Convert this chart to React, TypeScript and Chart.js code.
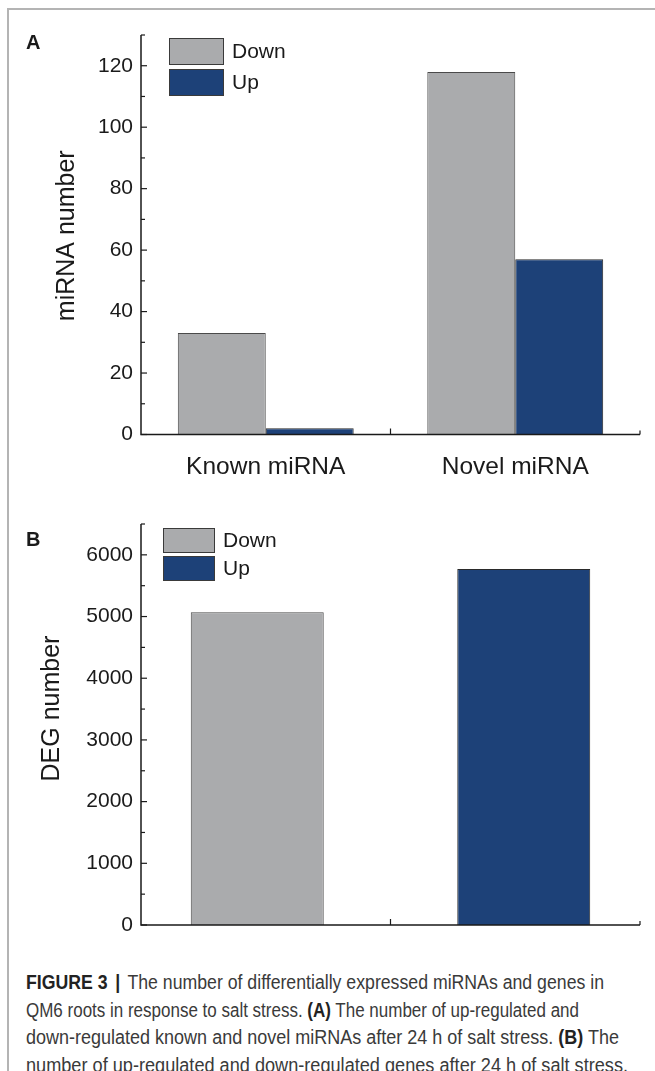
import React, { useEffect, useLayoutEffect, useRef } from "react";
import { Chart, registerables } from "chart.js";

Chart.register(...registerables);

// ---------- data ----------
const seriesLabels = ["Down", "Up"];
const seriesColors = ["#aaabad", "#1d4178"];
const miRnaCategories = ["Known miRNA", "Novel miRNA"];
const miRnaDown = [33, 118];
const miRnaUp = [2, 57];
const miRnaMajorTicks = [0, 20, 40, 60, 80, 100, 120];
const miRnaMinorTicks = [10, 30, 50, 70, 90, 110, 130];
const miRnaRange = [0, 130];
const degCategories = ["Down", "Up"];
const degDown: (number | null)[] = [5070, null];
const degUp: (number | null)[] = [null, 5770];
const degMajorTicks = [0, 1000, 2000, 3000, 4000, 5000, 6000];
const degMinorTicks = [500, 1500, 2500, 3500, 4500, 5500, 6500];
const degRange = [0, 6500];

const FONT = "'Liberation Sans', Arial, Helvetica, sans-serif";
const INK = "#1a1a1a";

const axesPlugin = {
  id: "customAxes",
  afterDatasetsDraw(chart: any, _args: any, opts: any) {
    const { ctx, chartArea } = chart;
    const { left, right, top, bottom } = chartArea;
    const x = chart.scales.x;
    const y = chart.scales.y;
    ctx.save();
    ctx.strokeStyle = INK;
    ctx.lineWidth = 1.5;
    ctx.beginPath();
    ctx.moveTo(left, top);
    ctx.lineTo(left, bottom);
    ctx.lineTo(right, bottom);
    ctx.stroke();
    ctx.lineWidth = 1.2;
    y.ticks.forEach((t: any) => {
      const py = y.getPixelForValue(t.value);
      ctx.beginPath();
      ctx.moveTo(left, py);
      ctx.lineTo(left + 6, py);
      ctx.stroke();
    });
    (opts.minor as number[]).forEach((v) => {
      const py = y.getPixelForValue(v);
      ctx.beginPath();
      ctx.moveTo(left, py);
      ctx.lineTo(left + 4, py);
      ctx.stroke();
    });
    const n = chart.data.labels.length;
    for (let i = 1; i <= n; i++) {
      const px = x.getPixelForValue(i - 0.5);
      ctx.beginPath();
      ctx.moveTo(px, bottom);
      ctx.lineTo(px, bottom - (i === n ? 4 : 6));
      ctx.stroke();
    }
    ctx.restore();
  },
};

const legendPlugin = {
  id: "customLegend",
  afterDraw(chart: any, _args: any, opts: any) {
    const { ctx, chartArea } = chart;
    const bx = chartArea.left + opts.dx;
    let by = chartArea.top + opts.dy;
    ctx.save();
    chart.data.datasets.forEach((ds: any) => {
      ctx.fillStyle = ds.backgroundColor;
      ctx.fillRect(bx, by, opts.w, opts.h);
      ctx.strokeStyle = "#3a3a3a";
      ctx.lineWidth = 1;
      ctx.strokeRect(bx + 0.5, by + 0.5, opts.w - 1, opts.h - 1);
      ctx.fillStyle = INK;
      ctx.font = `${opts.size}px ${FONT}`;
      ctx.textBaseline = "middle";
      ctx.textAlign = "left";
      ctx.fillText(ds.label, bx + opts.w + 8, by + opts.h / 2 + 1);
      by += opts.h + opts.gap;
    });
    ctx.restore();
  },
};

const yTitlePlugin = {
  id: "yTitle",
  afterDraw(chart: any, _args: any, opts: any) {
    const { ctx, chartArea } = chart;
    ctx.save();
    ctx.translate(opts.x, (chartArea.top + chartArea.bottom) / 2 + opts.dy);
    ctx.rotate(-Math.PI / 2);
    ctx.font = `${opts.size}px ${FONT}`;
    ctx.fillStyle = INK;
    ctx.textAlign = "center";
    ctx.textBaseline = "alphabetic";
    ctx.fillText(opts.text, 0, 0);
    ctx.restore();
  },
};

function makeScales(range: number[], major: number[], showX: boolean, xHeight: number) {
  return {
    x: {
      type: "category",
      offset: true,
      grid: { display: false, drawTicks: false },
      border: { display: false },
      ticks: {
        display: showX,
        color: INK,
        padding: 18,
        font: { family: FONT, size: 24.5 },
        maxRotation: 0,
        autoSkip: false,
      },
      afterFit: (s: any) => {
        s.height = xHeight;
      },
    },
    y: {
      min: range[0],
      max: range[1],
      grid: { display: false, drawTicks: false },
      border: { display: false },
      afterBuildTicks: (s: any) => {
        s.ticks = major.map((v) => ({ value: v }));
      },
      ticks: {
        padding: 8,
        color: INK,
        autoSkip: false,
        font: { family: FONT, size: 21 },
        callback: (v: any) => String(v),
      },
      afterFit: (s: any) => {
        s.width = 141;
      },
    },
  };
}

function PanelA() {
  const ref = useRef<HTMLCanvasElement>(null);
  useEffect(() => {
    const chart = new Chart(ref.current as HTMLCanvasElement, {
      type: "bar",
      data: {
        labels: miRnaCategories,
        datasets: [
          { label: seriesLabels[0], data: miRnaDown, backgroundColor: seriesColors[0], borderColor: "#4a4a4a", borderWidth: 1 },
          { label: seriesLabels[1], data: miRnaUp, backgroundColor: seriesColors[1], borderColor: "#2a2a2a", borderWidth: 1 },
        ],
      },
      options: {
        animation: false,
        responsive: false,
        maintainAspectRatio: false,
        datasets: { bar: { categoryPercentage: 0.705, barPercentage: 1 } },
        layout: { padding: { top: 35, right: 15, left: 0, bottom: 0 } },
        plugins: {
          legend: { display: false },
          tooltip: { enabled: false },
          customAxes: { minor: miRnaMinorTicks },
          customLegend: { dx: 28, dy: 3, w: 55, h: 27, gap: 4, size: 21 },
          yTitle: { text: "miRNA number", x: 74, dy: 1, size: 25 },
        } as any,
        scales: makeScales(miRnaRange, miRnaMajorTicks, true, 65.5) as any,
      },
      plugins: [axesPlugin, legendPlugin, yTitlePlugin],
    });
    return () => chart.destroy();
  }, []);
  return (
    <canvas ref={ref} width={655} height={500} style={{ position: "absolute", left: 0, top: 0, width: 655, height: 500 }} />
  );
}

function PanelB() {
  const ref = useRef<HTMLCanvasElement>(null);
  useEffect(() => {
    const chart = new Chart(ref.current as HTMLCanvasElement, {
      type: "bar",
      data: {
        labels: degCategories,
        datasets: [
          { label: seriesLabels[0], data: degDown, backgroundColor: seriesColors[0], borderColor: "#4a4a4a", borderWidth: 1 },
          { label: seriesLabels[1], data: degUp, backgroundColor: seriesColors[1], borderColor: "#2a2a2a", borderWidth: 1 },
        ],
      },
      options: {
        animation: false,
        responsive: false,
        maintainAspectRatio: false,
        datasets: { bar: { categoryPercentage: 0.1363, barPercentage: 7.82 } },
        layout: { padding: { top: 24, right: 15, left: 0, bottom: 0 } },
        plugins: {
          legend: { display: false },
          tooltip: { enabled: false },
          customAxes: { minor: degMinorTicks },
          customLegend: { dx: 22, dy: 4, w: 52, h: 25, gap: 3, size: 21 },
          yTitle: { text: "DEG number", x: 59, dy: -16, size: 25 },
        } as any,
        scales: makeScales(degRange, degMajorTicks, false, 35) as any,
      },
      plugins: [axesPlugin, legendPlugin, yTitlePlugin],
    });
    return () => chart.destroy();
  }, []);
  return (
    <canvas ref={ref} width={655} height={460} style={{ position: "absolute", left: 0, top: 500, width: 655, height: 460 }} />
  );
}

const captionLines: React.ReactNode[] = [
  <>
    <b style={{ color: "#222" }}>FIGURE 3</b> <b style={{ margin: "0 3px", color: "#222" }}>|</b> The number of differentially expressed miRNAs and genes in
  </>,
  <>
    QM6 roots in response to salt stress. <b style={{ color: "#222" }}>(A)</b> The number of up-regulated and
  </>,
  <>
    down-regulated known and novel miRNAs after 24 h of salt stress. <b style={{ color: "#222" }}>(B)</b> The
  </>,
  <>number of up-regulated and down-regulated genes after 24 h of salt stress.</>,
];
const captionLineWidths = [578, 553, 593, 602];

function Caption() {
  const spans = useRef<(HTMLSpanElement | null)[]>([]);
  useLayoutEffect(() => {
    spans.current.forEach((el, i) => {
      if (!el) return;
      const w = el.getBoundingClientRect().width;
      if (w > 0) el.style.transform = `scaleX(${captionLineWidths[i] / w})`;
    });
  }, []);
  return (
    <div
      style={{
        position: "absolute",
        left: 26,
        top: 969,
        fontFamily: FONT,
        fontSize: 20,
        lineHeight: "27.7px",
        color: "#3a3a3a",
        whiteSpace: "nowrap",
      }}
    >
      {captionLines.map((l, i) => (
        <div key={i}>
          <span
            ref={(el) => {
              spans.current[i] = el;
            }}
            style={{ display: "inline-block", transformOrigin: "0 0" }}
          >
            {l}
          </span>
        </div>
      ))}
    </div>
  );
}

export default function App() {
  useEffect(() => {
    document.body.style.margin = "0";
  }, []);
  return (
    <div style={{ position: "relative", width: 655, height: 1071, background: "#fff", overflow: "hidden" }}>
      <div
        style={{
          position: "absolute",
          left: 7,
          top: 8,
          width: 700,
          height: 1100,
          borderTop: "2px solid #b4b4b4",
          borderLeft: "2px solid #b4b4b4",
        }}
      />
      <PanelA />
      <PanelB />
      <div style={{ position: "absolute", left: 26, top: 31, font: `bold 20px ${FONT}`, color: INK }}>A</div>
      <div style={{ position: "absolute", left: 26, top: 528, font: `bold 20px ${FONT}`, color: INK }}>B</div>
      <Caption />
    </div>
  );
}
